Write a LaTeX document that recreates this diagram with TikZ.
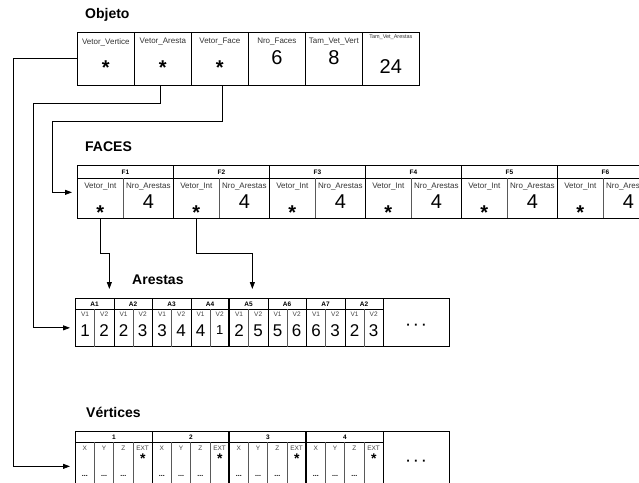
\documentclass[tikz,border=0pt]{standalone}
\usepackage{fontspec}
\setmainfont{Liberation Sans}
\usetikzlibrary{arrows.meta, positioning, calc}
\tikzset{
	titulo/.style ={font=\fontsize{14}{16}\selectfont\bfseries, anchor=west, inner sep=0pt},
	caixa/.style  ={rectangle, draw=black, line width=0.7pt, inner sep=0pt, anchor=north west},
	rotulo/.style ={font=\fontsize{8}{9}\selectfont, text=black!80, inner sep=0pt},
	cab/.style    ={font=\fontsize{6.5}{7}\selectfont\bfseries, inner sep=0pt},
	miudo/.style  ={font=\fontsize{6.5}{7}\selectfont, text=black!75, inner sep=0pt},
	valor/.style  ={font=\fontsize{20}{22}\selectfont, inner sep=0pt},
	valorp/.style ={font=\fontsize{17}{18}\selectfont, inner sep=0pt},
	estrela/.style={font=\fontsize{20}{22}\selectfont\bfseries, inner sep=0pt, anchor=base},
	div/.style    ={draw=black!65, line width=0.5pt},
	grosso/.style ={line width=1.6pt},
	ptr/.style    ={-{Triangle[length=7pt, width=5pt]}, line width=0.8pt, shorten >=5pt},
}
\begin{document}
\begin{tikzpicture}[x=1pt, y=-1pt]
	\useasboundingbox (0,0) rectangle (639,482);
	% Objeto
	\node[titulo] (tobj) at (85,15) {Objeto};
	\foreach \nome/\rot [count=\i from 0] in {vv/Vetor\_Vertice, va/Vetor\_Aresta, vf/Vetor\_Face, nf/Nro\_Faces, tv/Tam\_Vet\_Vert} {
		\node[caixa, minimum width=57, minimum height=53] (\nome) at ({77+57*\i},32) {};
		\node[rotulo] at ([yshift=-10pt]\nome.north) {\rot};
	}
	\node[caixa, minimum width=57, minimum height=53] (ta) at (362,32) {};
	\node[rotulo, font=\fontsize{5.5}{6}\selectfont] at ([yshift=-5pt]ta.north) {Tam\_Vet\_Arestas};
	\foreach \nome in {vv,va,vf}
		\node[estrela] at ([yshift=-16pt]\nome.center) {*};
	\node[valor] at ([yshift=1.5pt]nf.center) {6};
	\node[valor] at ([yshift=1.5pt]tv.center) {8};
	\node[valor] at ([yshift=-7.5pt]ta.center) {24};

	% FACES
	\node[titulo] (tfac) at (85,147) {FACES};
	\foreach \i in {0,...,5} {
		\pgfmathtruncatemacro{\n}{\i+1}
		\node[caixa, minimum width=96, minimum height=13] (fh\i) at ({77+96*\i},165) {};
		\node[cab] at (fh\i.center) {F\n};
		\node[caixa, minimum width=46, minimum height=40] (fv\i) at ({77+96*\i},178) {};
		\node[caixa, minimum width=50, minimum height=40, draw=none] (fn\i) at ({123+96*\i},178) {};
		\draw[div] (fn\i.north west) -- (fn\i.south west);
		\draw[line width=0.7pt] (fn\i.north east) -- (fn\i.south east) (fn\i.south west) -- (fn\i.south east);
		\node[rotulo] at ([yshift=-9pt]fv\i.north) {Vetor\_Int};
		\node[rotulo] at ([yshift=-9pt]fn\i.north) {Nro\_Arestas};
		\node[estrela] at ([yshift=-21.5pt]fv\i.center) {*};
		\node[valor] at ([yshift=-3pt]fn\i.center) {4};
	}

	% Arestas
	\node[titulo] (tare) at (132,280) {Arestas};
	\foreach \r/\a/\b [count=\i from 0] in {A1/1/2, A2/2/3, A3/3/4, A4/4/{\raisebox{-2pt}{\fontsize{13}{13}\selectfont 1}}, A5/2/5, A6/5/6, A7/6/3, A2/2/3} {
		\node[caixa, minimum width=38.5, minimum height=11] (ah\i) at ({75+38.5*\i},298) {};
		\node[cab] at (ah\i.center) {\r};
		\node[caixa, minimum width=38.5, minimum height=37] (ad\i) at ({75+38.5*\i},309) {};
		\draw[div] (ad\i.north) -- (ad\i.south);
		\node[miudo] at ([xshift=-9.6pt, yshift=-5pt]ad\i.north) {V1};
		\node[miudo] at ([xshift=9.6pt, yshift=-5pt]ad\i.north) {V2};
		\node[valorp] at ([xshift=-9.6pt, yshift=-2.5pt]ad\i.center) {\a};
		\node[valorp] at ([xshift=9.6pt, yshift=-2.5pt]ad\i.center) {\b};
	}
	\draw[grosso] (ah4.north west) -- (ad4.south west);
	\node[caixa, minimum width=66, minimum height=48] (amais) at (383,298) {};
	\node[valorp, font=\fontsize{13}{13}\selectfont\bfseries] at ([yshift=-4pt]amais.center) {· · ·};

	% Vertices
	\node[titulo] (tver) at (86,412) {Vértices};
	\foreach \i in {0,...,3} {
		\pgfmathtruncatemacro{\n}{\i+1}
		\node[caixa, minimum width=77, minimum height=11] (vh\i) at ({75+77*\i},431) {};
		\node[cab] at (vh\i.center) {\n};
		\node[caixa, minimum width=77, minimum height=48] (vd\i) at ({75+77*\i},442) {};
		\foreach \t [count=\k from 0] in {X, Y, Z, EXT} {
			\node[miudo] at ([xshift={19.25*\k-29}, yshift=-6pt]vd\i.north) {\t};
		}
		\foreach \k in {1,2,3}
			\draw[div] ([xshift={19.25*\k}]vd\i.north west) -- ([xshift={19.25*\k}]vd\i.south west);
		\foreach \k in {0,1,2}
			\node[cab, font=\fontsize{7}{7}\selectfont\bfseries] at ([xshift={19.25*\k-29}, yshift=-10pt]vd\i.center) {...};
		\node[estrela, font=\fontsize{14}{15}\selectfont\bfseries] at ([xshift=28.9pt, yshift=3pt]vd\i.center) {*};
	}
	\draw[grosso] (vh2.north west) -- (vd2.south west);
	\draw[grosso] (vh3.north west) -- (vd3.south west);
	\node[caixa, minimum width=66, minimum height=59] (vmais) at (383,431) {};
	\node[valorp, font=\fontsize{13}{13}\selectfont\bfseries] at ([yshift=-2pt]vmais.center) {· · ·};

	% ponteiros
	\draw[ptr] (vv.west) -- ++(-64,0) |- (vd0.west);
	\draw[ptr] ([xshift=-2.5pt]va.south) |- ++(-127,18) |- (ad0.west);
	\draw[ptr] ([xshift=2.5pt]vf.south) |- ++(-170,36) |- ([yshift=6pt]fv0.west);
	\draw[ptr, shorten >=9pt] (fv0.south) -- ++(0,35) -| ([xshift=14.75pt]ah0.north);
	\draw[ptr, shorten >=9pt] (fv1.south) -- ++(0,35) -| ([xshift=3.75pt]ah4.north);
\end{tikzpicture}
\end{document}
